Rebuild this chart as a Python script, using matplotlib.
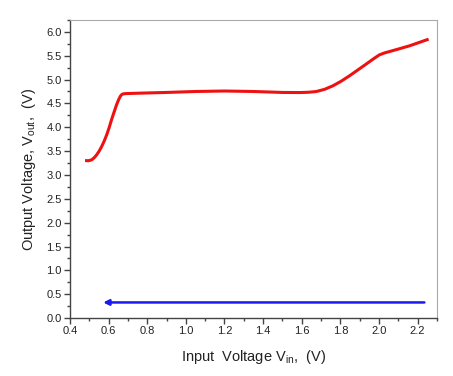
import matplotlib.pyplot as plt
from matplotlib.ticker import MultipleLocator

plt.rcParams['font.family'] = ['Liberation Sans', 'DejaVu Sans']

# Curva de salida
vin = [0.478, 0.495, 0.512, 0.525, 0.538, 0.551, 0.564, 0.577, 0.590, 0.603,
       0.615, 0.628, 0.641, 0.652, 0.662, 0.669, 0.675, 0.690, 0.720, 0.762,
       0.90, 1.05, 1.20, 1.35, 1.50, 1.589, 1.632, 1.675, 1.718, 1.761, 1.804,
       1.847, 1.890, 1.933, 1.970, 2.002, 2.030, 2.054, 2.105, 2.157, 2.207, 2.257]
vout = [3.303, 3.298, 3.317, 3.360, 3.422, 3.500, 3.596, 3.710, 3.841, 3.995,
        4.156, 4.315, 4.470, 4.580, 4.658, 4.688, 4.700, 4.706, 4.710, 4.715,
        4.73, 4.75, 4.76, 4.75, 4.73, 4.728, 4.733, 4.749, 4.795, 4.868, 4.965,
        5.078, 5.200, 5.323, 5.430, 5.518, 5.560, 5.587, 5.645, 5.706, 5.776, 5.847]

# Flecha azul
arrow_start = (2.235, 0.328)
arrow_end = (0.572, 0.328)

fig = plt.figure(figsize=(4.53, 3.76), dpi=100)
ax = fig.add_axes([0.1545, 0.154, 0.81, 0.793])

ax.plot(vin, vout, color='#ee1111', lw=2.2, solid_capstyle='butt',
        solid_joinstyle='round')
ax.annotate('', xy=arrow_end, xytext=arrow_start,
            arrowprops=dict(arrowstyle='-|>', color='#1a1aee', lw=1.8,
                            mutation_scale=8, shrinkA=0, shrinkB=0))

ax.set_xlim(0.4, 2.3)
ax.set_ylim(0, 6.25)
ax.xaxis.set_major_locator(MultipleLocator(0.2))
ax.xaxis.set_minor_locator(MultipleLocator(0.1))
ax.yaxis.set_major_locator(MultipleLocator(0.5))
ax.yaxis.set_minor_locator(MultipleLocator(0.25))
ax.xaxis.set_major_formatter(plt.FormatStrFormatter('%.1f'))
ax.yaxis.set_major_formatter(plt.FormatStrFormatter('%.1f'))

ax.tick_params(which='both', direction='out', color='#444444', width=1,
               labelsize=8, labelcolor='#222222', pad=2)
ax.tick_params(which='major', length=4)
ax.tick_params(which='minor', length=2.5)

for s in ['left', 'bottom']:
    ax.spines[s].set_color('#444444')
    ax.spines[s].set_linewidth(1)
for s in ['top', 'right']:
    ax.spines[s].set_color('#aaaaaa')
    ax.spines[s].set_linewidth(0.8)

ax.set_xlabel('Input  Voltage V$_{\\mathregular{in}}$,  (V)', fontsize=10.5,
              color='#222222', labelpad=8)
ax.set_ylabel('Output Voltage, V$_{\\mathregular{out}}$,  (V)', fontsize=10.5,
              color='#222222', labelpad=6)

fig.savefig('out.png', dpi=100)
